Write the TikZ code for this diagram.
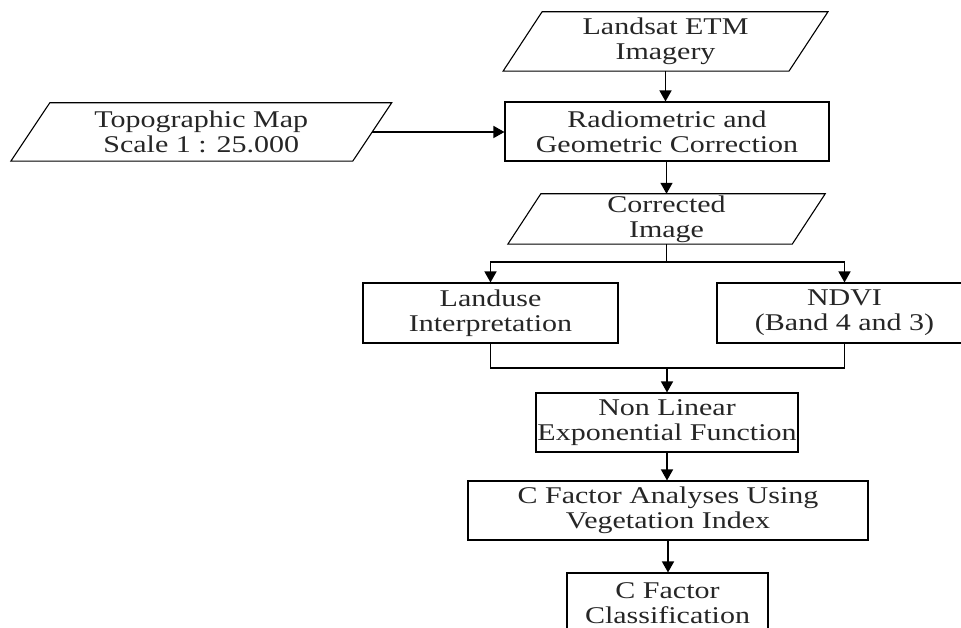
\documentclass[tikz,border=0pt]{standalone}
\usepackage{fontspec}
\setmainfont{Liberation Serif}[FakeStretch=1.25]
\usetikzlibrary{arrows.meta}
\newcommand\drawpara[2]{\draw[line width=1.1pt] ([xshift=#2pt]#1.north west) -- ([xshift=#2pt]#1.north east) -- ([xshift=-#2pt]#1.south east) -- ([xshift=-#2pt]#1.south west) -- cycle;}
\tikzset{
  txt/.style={inner sep=0pt, align=center, font=\fontsize{24}{25}\selectfont, text=black!85},
  box/.style={txt, draw, line width=1.1pt},
  para/.style={txt},
  arr/.style={-{Triangle[width=12pt,length=11pt]}, line width=1.5pt},
  conn/.style={line width=1.5pt}
}
\begin{document}
\begin{tikzpicture}[x=1pt,y=-1pt]
\useasboundingbox (0,0) rectangle (961,628);
\clip (0,0) rectangle (961,628);
\node[para, minimum width=285.5pt, minimum height=59pt] (land) at (665.5,41.5) {Landsat ETM\\Imagery};
\drawpara{land}{19.5}
\node[para, minimum width=341.5pt, minimum height=58pt] (topo) at (201.25,132) {Topographic Map\\Scale 1 : 25.000};
\drawpara{topo}{19.5}
\node[box, minimum width=324pt, minimum height=59pt] (radio) at (667,131.5) {Radiometric and\\Geometric Correction};
\node[para, minimum width=284pt, minimum height=50pt] (corr) at (666.5,219) {Corrected\\Image};
\drawpara{corr}{16.5}
\node[box, minimum width=255pt, minimum height=60pt] (landuse) at (490.5,313) {Landuse\\Interpretation};
\node[box, minimum width=255pt, minimum height=60pt] (ndvi) at (844.5,313) {NDVI\\(Band 4 and 3)};
\node[box, minimum width=262pt, minimum height=59pt] (nonlin) at (667,422.5) {Non Linear\\Exponential Function};
\node[box, minimum width=400pt, minimum height=59pt] (cfa) at (668,510.5) {C Factor Analyses Using\\Vegetation Index};
\node[box, minimum width=201pt, minimum height=60pt] (cls) at (667.5,603) {C Factor\\Classification};
\coordinate (split) at (666.5,262);
\coordinate (merge) at (667,368);
\draw[arr] (land.south) -- (radio.north -| land.south);
\draw[arr] (topo.east) -- (topo.east -| radio.west);
\draw[arr] (radio.south -| corr.north) -- (corr.north);
\draw[conn] (corr.south) -- (split);
\draw[arr] (split) -| (landuse.north);
\draw[arr] (split) -| (ndvi.north);
\draw[conn] (landuse.south) |- (merge) -| (ndvi.south);
\draw[arr] (merge) -- (nonlin.north);
\draw[arr] (nonlin.south) -- (cfa.north -| nonlin.south);
\draw[arr] (cfa.south) -- (cls.north -| cfa.south);
\end{tikzpicture}
\end{document}
